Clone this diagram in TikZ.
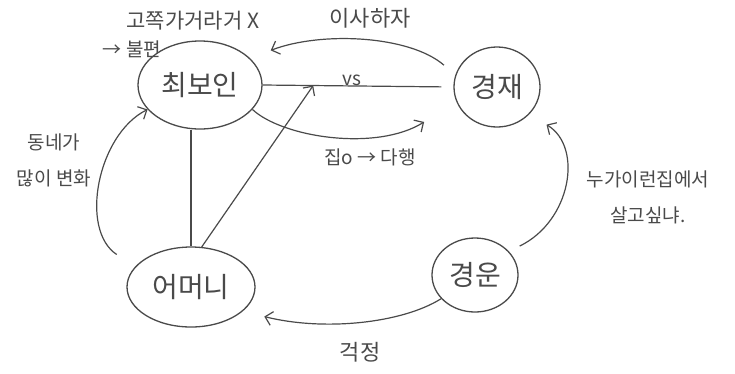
\documentclass[tikz,border=0pt]{standalone}
\usepackage{fontspec}
\setmainfont{Noto Sans CJK KR}
\usetikzlibrary{shapes.geometric,arrows.meta}
\definecolor{ink}{HTML}{4A4A4A}
\tikzset{
  ell/.style={ellipse, draw=ink, line width=1.3pt, text=ink, font=\fontsize{28}{30}\selectfont, inner sep=0pt},
  lbl/.style={text=ink, font=\fontsize{19}{36}\selectfont, align=center, inner sep=1pt},
  con/.style={draw=ink, line width=1.2pt},
  arr/.style={con, -{Straight Barb[length=7pt,width=14pt,line width=1.2pt]}}
}
\begin{document}
\begin{tikzpicture}[x=1pt,y=-1pt]
\useasboundingbox (0,0) rectangle (735,373);
\fill[white] (0,0) rectangle (735,373);
% nodes
\node[ell, minimum width=124pt, minimum height=88pt] (cb) at (200,85) {최보인};
\node[ell, minimum width=86pt, minimum height=80pt] (kj) at (497,87) {경재};
\node[ell, minimum width=128pt, minimum height=80pt] (mom) at (191,287) {어머니};
\node[ell, minimum width=86pt, minimum height=74pt] (gy) at (475,275) {경운};
% labels
\node[lbl, font=\fontsize{21}{24}\selectfont] (t1) at (193,21) {고쪽가거라거 X};
\node[lbl] (t2) at (132,49) {→ 불편};
\node[lbl, font=\fontsize{22}{24}\selectfont] (t3) at (370,18) {이사하자};
\node[lbl] (t4) at (370,157) {집o → 다행};
\node[lbl] (t5) at (54,160) {동네가\\많이 변화};
\node[lbl] (t6) at (648,197) {누가이런집에서\\살고싶냐.};
\node[lbl, font=\fontsize{22}{24}\selectfont] (t7) at (360,352) {걱정};
% connectors
\draw[arr, shorten <=15pt, shorten >=22pt] (kj.164) .. controls +(-46,-40) and +(70,-27) .. (cb.28);
\draw[con, shorten >=12pt] (cb.east) -- node[pos=0.47, lbl, above=-1pt] (vs) {vs} coordinate[pos=0.265] (hit) (kj.west);
\draw[arr, shorten >=38pt] (cb.-25) .. controls +(30,28) and +(-80,50) .. (kj.200);
\draw[con] (mom.north |- cb.south) -- (mom.north);
\draw[arr] (mom.75) -- (hit);
\draw[arr, shorten <=22pt] (mom.160) .. controls +(-56,-37) and +(-50,25) .. (cb.205);
\draw[arr, shorten >=22pt] (gy.215) .. controls +(-40,25) and +(80,20) .. (mom.-25);
\draw[arr, shorten <=12pt, shorten >=20pt] (gy.35) .. controls +(62,-30) and +(54,33) .. (kj.-40);
\end{tikzpicture}
\end{document}
